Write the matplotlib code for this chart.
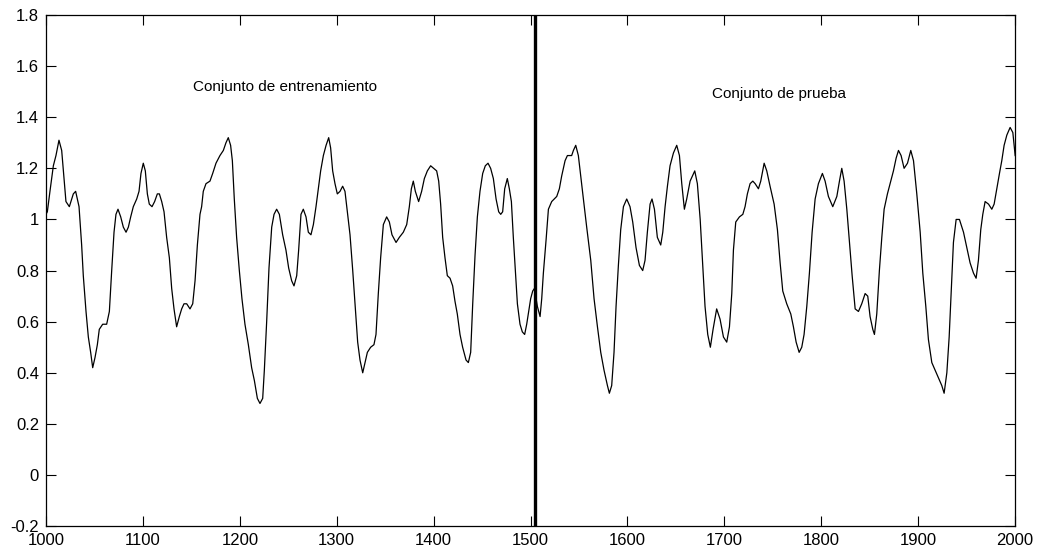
import numpy as np
import matplotlib.pyplot as plt
from matplotlib.ticker import FuncFormatter

plt.rcParams['font.family'] = ['Liberation Sans Narrow', 'Liberation Sans', 'DejaVu Sans']

# serie de Mackey-Glass, tramo de entrenamiento (1000-1505)
train_t = [1000, 1001.4, 1004.1, 1007.6, 1010.3, 1013.4, 1016.2, 1018.6, 1020.6, 1024.1,
           1028.2, 1030.6, 1034.1, 1036.8, 1038.5, 1041.3, 1043.7, 1046.1, 1048.2, 1050.6,
           1053, 1055, 1058.5, 1062.6, 1065.4, 1067.8, 1070.2, 1072.2, 1074.3, 1077.1,
           1079.8, 1082.6, 1085, 1087.4, 1090.1, 1093.6, 1096, 1098, 1100.4, 1102.5,
           1104.6, 1106.6, 1109.4, 1112.1, 1114.9, 1117, 1119.4, 1121.8, 1124.5, 1127.3,
           1129.7, 1132.1, 1134.8, 1137.6, 1140, 1142.4, 1145.2, 1148.6, 1151.4, 1153.8,
           1156.2, 1158.9, 1160.6, 1162.3, 1165.1, 1169.2, 1172, 1175.4, 1179.5, 1183,
           1185.7, 1188.1, 1190.5, 1192.3, 1194.3, 1196.7, 1199.5, 1202.2, 1205.3, 1208.8,
           1212.2, 1215, 1218.1, 1220.8, 1223.6, 1225.3, 1227.7, 1230.1, 1232.9, 1235.3,
           1238, 1240.8, 1244.2, 1247.6, 1250.4, 1253.5, 1255.9, 1258.7, 1260.7, 1263.1,
           1265.5, 1268.3, 1270.7, 1273.4, 1275.9, 1278.6, 1281, 1283.4, 1286.2, 1289,
           1291.7, 1293.7, 1295.8, 1298.2, 1300.6, 1303.4, 1306.1, 1308.5, 1311, 1313.7,
           1316.5, 1319.2, 1321.6, 1324, 1326.8, 1329.2, 1331.6, 1335, 1338.4, 1340.5,
           1342.9, 1345.3, 1348.1, 1351.5, 1354.3, 1357, 1361.2, 1364.6, 1368.7, 1372.2,
           1374.9, 1377, 1379, 1381.1, 1384.5, 1387.6, 1390.4, 1393.5, 1396.9, 1400,
           1403.1, 1405.2, 1407.2, 1409.3, 1411.7, 1414.1, 1416.9, 1419.6, 1422, 1424.4,
           1427.2, 1429.9, 1433.4, 1435.8, 1438.2, 1440.3, 1442.7, 1445.1, 1447.8, 1450.6,
           1453.3, 1456.1, 1458.8, 1461.6, 1464.4, 1467.1, 1469.2, 1471.2, 1473.3, 1476,
           1478.1, 1480.2, 1482.2, 1484.3, 1486.4, 1489.1, 1491.5, 1493.9, 1496, 1498.1,
           1500.1, 1502.2, 1504]
train_y = [1.02, 1.03, 1.11, 1.21, 1.25, 1.31, 1.27, 1.16, 1.07, 1.05,
           1.10, 1.11, 1.05, 0.90, 0.78, 0.64, 0.54, 0.48, 0.42, 0.46,
           0.51, 0.57, 0.59, 0.59, 0.64, 0.80, 0.95, 1.02, 1.04, 1.01,
           0.97, 0.95, 0.97, 1.01, 1.05, 1.08, 1.11, 1.18, 1.22, 1.19,
           1.10, 1.06, 1.05, 1.07, 1.10, 1.10, 1.07, 1.03, 0.93, 0.85,
           0.73, 0.65, 0.58, 0.62, 0.65, 0.67, 0.67, 0.65, 0.67, 0.76,
           0.90, 1.02, 1.05, 1.11, 1.14, 1.15, 1.18, 1.22, 1.25, 1.27,
           1.30, 1.32, 1.29, 1.23, 1.08, 0.93, 0.80, 0.69, 0.59, 0.51,
           0.42, 0.37, 0.30, 0.28, 0.30, 0.41, 0.60, 0.81, 0.97, 1.02,
           1.04, 1.02, 0.94, 0.88, 0.81, 0.76, 0.74, 0.78, 0.88, 1.02,
           1.04, 1.01, 0.95, 0.94, 0.98, 1.05, 1.12, 1.19, 1.25, 1.29,
           1.32, 1.28, 1.19, 1.14, 1.10, 1.11, 1.13, 1.11, 1.03, 0.94,
           0.80, 0.65, 0.52, 0.45, 0.40, 0.44, 0.48, 0.50, 0.51, 0.55,
           0.71, 0.85, 0.98, 1.01, 0.99, 0.94, 0.91, 0.93, 0.95, 0.98,
           1.05, 1.12, 1.15, 1.11, 1.07, 1.11, 1.16, 1.19, 1.21, 1.20,
           1.19, 1.15, 1.06, 0.93, 0.85, 0.78, 0.77, 0.74, 0.68, 0.63,
           0.55, 0.50, 0.45, 0.44, 0.48, 0.67, 0.86, 1.01, 1.11, 1.18,
           1.21, 1.22, 1.20, 1.16, 1.08, 1.03, 1.02, 1.03, 1.12, 1.16,
           1.12, 1.07, 0.93, 0.80, 0.67, 0.59, 0.56, 0.55, 0.59, 0.64,
           0.69, 0.72, 0.73]

# tramo de prueba (1505-2000)
test_t = [1507, 1509.8, 1511.5, 1513.2, 1516, 1518.4, 1521.8, 1527, 1529.7, 1532.1,
          1535.6, 1538, 1542.4, 1544.2, 1546.6, 1549.3, 1551.7, 1554.5, 1557.9, 1562.1,
          1565.5, 1569, 1572.4, 1575.8, 1579.3, 1581.3, 1583.7, 1586.1, 1588.2, 1590.6,
          1593, 1595.8, 1599.2, 1602.6, 1605.4, 1608.8, 1612.3, 1615.7, 1618.1, 1620.5,
          1623.3, 1625.3, 1627.8, 1630.8, 1634.3, 1636.4, 1638.8, 1641.2, 1643.9, 1647.4,
          1650.8, 1653.6, 1656, 1658.7, 1661.1, 1664.6, 1669.4, 1672.1, 1675, 1677.6,
          1680, 1682.8, 1685.5, 1688.3, 1692, 1695.5, 1699, 1702.4, 1705.2, 1707.6,
          1709.3, 1711.7, 1715.5, 1719, 1721.3, 1723.7, 1726.5, 1729.3, 1731.7, 1735.1,
          1737.5, 1741, 1743.7, 1747.1, 1751.3, 1754.7, 1757.5, 1760.2, 1764.3, 1768.5,
          1771.2, 1774, 1777.1, 1779.8, 1782.2, 1785, 1787.7, 1790.5, 1793.6, 1797,
          1801.1, 1803.9, 1807.3, 1811.8, 1816, 1818.7, 1821.1, 1823.5, 1826.3, 1829,
          1831.8, 1834.9, 1838.3, 1841.7, 1845.2, 1847.9, 1850.3, 1853.1, 1854.8, 1857.2,
          1859.9, 1862.4, 1864.8, 1868.2, 1871.7, 1874.4, 1877.2, 1879.6, 1882.3, 1885.4,
          1888.9, 1892.3, 1895.1, 1898.5, 1902, 1904.7, 1907.8, 1910.5, 1914, 1917.4,
          1920.9, 1924.3, 1926.7, 1929.5, 1931.9, 1933.9, 1936.3, 1939.1, 1942.5, 1946.7,
          1950.1, 1953.5, 1957, 1959.7, 1962.1, 1964.5, 1966.6, 1969, 1972.5, 1975.9,
          1978.3, 1981, 1983.8, 1986.2, 1988.6, 1991.4, 1994.8, 1997.6, 2000]
test_y = [0.66, 0.62, 0.69, 0.79, 0.92, 1.04, 1.07, 1.09, 1.12, 1.17,
          1.23, 1.25, 1.25, 1.27, 1.29, 1.25, 1.17, 1.08, 0.97, 0.84,
          0.69, 0.58, 0.48, 0.41, 0.35, 0.32, 0.35, 0.48, 0.66, 0.82,
          0.96, 1.05, 1.08, 1.05, 0.99, 0.89, 0.82, 0.80, 0.84, 0.95,
          1.06, 1.08, 1.04, 0.93, 0.90, 0.95, 1.05, 1.13, 1.21, 1.26,
          1.29, 1.25, 1.14, 1.04, 1.08, 1.15, 1.19, 1.14, 1.00, 0.82,
          0.66, 0.55, 0.50, 0.57, 0.65, 0.61, 0.54, 0.52, 0.58, 0.71,
          0.88, 0.99, 1.01, 1.02, 1.05, 1.10, 1.14, 1.15, 1.14, 1.12,
          1.15, 1.22, 1.19, 1.13, 1.06, 0.96, 0.83, 0.72, 0.67, 0.63,
          0.58, 0.52, 0.48, 0.50, 0.55, 0.66, 0.79, 0.95, 1.08, 1.14,
          1.18, 1.15, 1.09, 1.05, 1.09, 1.15, 1.20, 1.15, 1.04, 0.91,
          0.78, 0.65, 0.64, 0.67, 0.71, 0.70, 0.62, 0.57, 0.55, 0.63,
          0.80, 0.93, 1.04, 1.10, 1.15, 1.19, 1.24, 1.27, 1.25, 1.20,
          1.22, 1.27, 1.23, 1.10, 0.95, 0.79, 0.66, 0.53, 0.44, 0.41,
          0.38, 0.35, 0.32, 0.40, 0.54, 0.71, 0.91, 1.00, 1.00, 0.95,
          0.89, 0.83, 0.79, 0.77, 0.84, 0.96, 1.02, 1.07, 1.06, 1.04,
          1.06, 1.12, 1.18, 1.23, 1.29, 1.33, 1.36, 1.34, 1.25]

split = 1505

fig = plt.figure(figsize=(10.38, 5.55), dpi=100)
ax = fig.add_axes([0.0443, 0.052, 0.9337, 0.921])

ax.plot(train_t + test_t, train_y + test_y, color='black', linewidth=0.9)
ax.axvline(split, color='black', linewidth=2.4)

ax.text(1152, 1.52, 'Conjunto de entrenamiento', fontsize=11, va='center')
ax.text(1687, 1.49, 'Conjunto de prueba', fontsize=11, va='center')

ax.set_xlim(1000, 2000)
ax.set_ylim(-0.2, 1.8)
ax.set_xticks(np.arange(1000, 2001, 100))
ax.set_yticks(np.arange(-0.2, 1.81, 0.2))
ax.yaxis.set_major_formatter(FuncFormatter(lambda v, p: '%g' % round(v, 1)))
ax.tick_params(direction='in', length=7, width=0.8, top=True, right=True,
               labelsize=12, pad=5, colors='black')
for s in ax.spines.values():
    s.set_linewidth(0.9)

fig.savefig('out.png', dpi=100)
